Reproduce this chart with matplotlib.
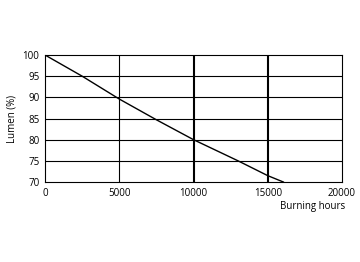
import matplotlib
matplotlib.use("Agg")
import matplotlib.pyplot as plt

hours = [0, 2500, 5000, 7500, 10000, 13000, 15000, 16050]
lumen = [100, 95, 89.6, 84.7, 80, 75, 71.5, 70]
xticks = [0, 5000, 10000, 15000, 20000]
yticks = [70, 75, 80, 85, 90, 95, 100]

plt.rcParams['font.family'] = ['Open Sans', 'DejaVu Sans']
fig = plt.figure(figsize=(3.6, 2.62), dpi=100)
ax = fig.add_axes([45/360, 1-182/262, 297/360, 127/262])
ax.set_xlim(0, 20000)
ax.set_ylim(70, 100)
for y in yticks[1:-1]:
    ax.axhline(y, color='black', lw=0.8, zorder=1)
ax.axvline(5000, color='black', lw=0.8, zorder=1)
ax.axvline(10000, color='black', lw=1.5, zorder=1)
ax.axvline(15000, color='black', lw=1.5, zorder=1)
ax.plot(hours, lumen, color='black', lw=1.0, zorder=2, clip_on=True)
ax.set_xticks(xticks)
ax.set_yticks(yticks)
ax.tick_params(length=0, labelsize=7, pad=4)
for s in ax.spines.values():
    s.set_linewidth(0.8)
ax.set_ylabel('Lumen (%)', fontsize=7)
ax.yaxis.set_label_coords(-0.111, 0.5)
ax.yaxis.label.set_va('center')
fig.text(345/360, 1-207/262, 'Burning hours', ha='right', va='center', fontsize=7)
fig.savefig('out.png', dpi=100)
